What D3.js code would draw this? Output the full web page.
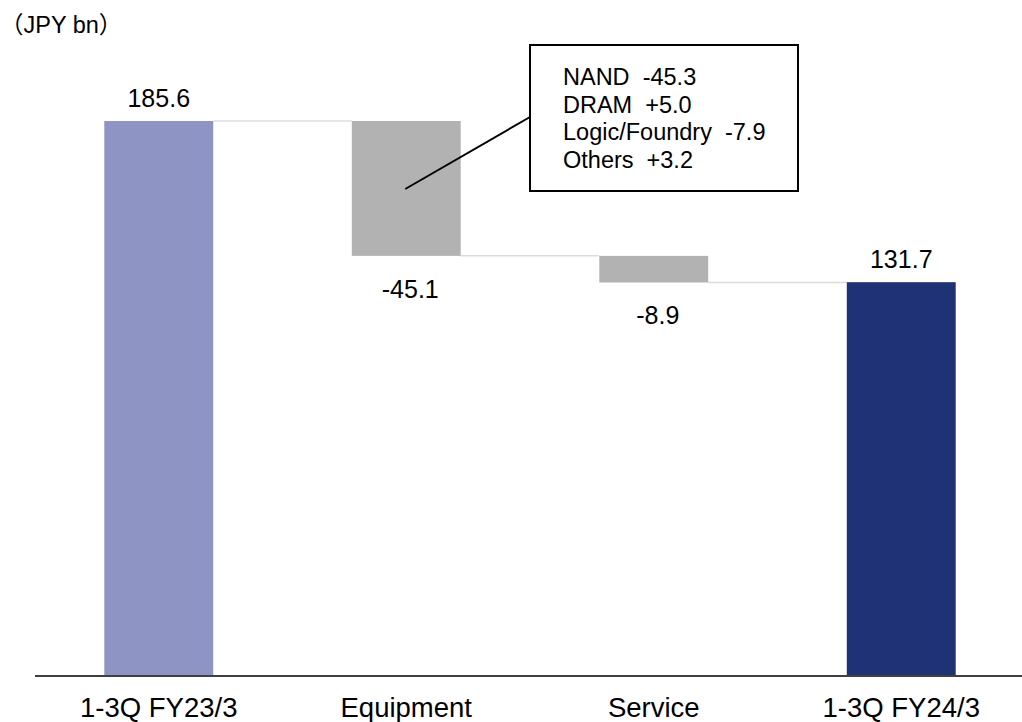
<!DOCTYPE html>
<html>
<head>
<meta charset="utf-8">
<script src="https://cdn.jsdelivr.net/npm/d3@7"></script>
<style>
  body { margin: 0; background: #fff; }
  text { font-family: "Liberation Sans", Arial, "Noto Sans CJK JP", sans-serif; fill: #000; }
</style>
</head>
<body>
<div id="chart"></div>
<script>
// data
const categories = ["1-3Q FY23/3", "Equipment", "Service", "1-3Q FY24/3"];
const kinds = ["total", "delta", "delta", "total"];
const values = [185.6, -45.1, -8.9, 131.7];
const valueLabels = ["185.6", "-45.1", "-8.9", "131.7"];
const breakdownLabels = ["NAND  -45.3", "DRAM  +5.0", "Logic/Foundry  -7.9", "Others  +3.2"];
const unitLabel = "（JPY bn）";

const width = 1022, height = 722;
const colors = ["#8e94c4", "#b2b2b2", "#b2b2b2", "#1f3275"];

// running start/end for each bar
let running = 0;
const bars = categories.map((c, i) => {
    let y0, y1;
    if (kinds[i] === "total") { y0 = 0; y1 = values[i]; running = values[i]; }
    else { y0 = running; y1 = running + values[i]; running = y1; }
    return { cat: c, y0: y0, y1: y1, label: valueLabels[i], kind: kinds[i], value: values[i], color: colors[i] };
});

const svg = d3.select("#chart").append("svg")
    .attr("width", width)
    .attr("height", height);

const x = d3.scaleBand()
    .domain(categories)
    .range([35, 1025])
    .paddingInner(0.56)
    .paddingOuter(0.28);

const y = d3.scaleLinear()
    .domain([0, 185.6])
    .range([676, 121]);

// connector lines
for (let i = 0; i < bars.length - 1; i++) {
    const lvl = bars[i].y1;
    svg.append("line")
        .attr("x1", x(bars[i].cat) + x.bandwidth())
        .attr("x2", x(bars[i + 1].cat))
        .attr("y1", y(lvl))
        .attr("y2", y(lvl))
        .attr("stroke", "#dcdcdc")
        .attr("stroke-width", 1.5);
}

// bars
svg.selectAll("rect.bar")
    .data(bars)
    .enter()
    .append("rect")
    .attr("class", "bar")
    .attr("x", d => x(d.cat))
    .attr("width", x.bandwidth())
    .attr("y", d => y(Math.max(d.y0, d.y1)))
    .attr("height", d => Math.abs(y(d.y0) - y(d.y1)))
    .attr("fill", d => d.color);

// value labels
svg.selectAll("text.val")
    .data(bars)
    .enter()
    .append("text")
    .attr("class", "val")
    .attr("x", d => x(d.cat) + x.bandwidth() / 2 + (d.value < 0 ? 4 : 0))
    .attr("y", d => d.value >= 0 ? y(Math.max(d.y0, d.y1)) - 14 : y(Math.min(d.y0, d.y1)) + 42)
    .attr("text-anchor", "middle")
    .style("font-size", "25px")
    .text(d => d.label);

// x axis
const xAxis = svg.append("g")
    .attr("transform", "translate(0,676)")
    .call(d3.axisBottom(x).tickSize(0).tickPadding(21));
xAxis.select(".domain").remove();
xAxis.selectAll("text")
    .style("font-size", "27.5px")
    .style("font-family", "'Liberation Sans', Arial, sans-serif")
    .attr("fill", "#3a3a3a")
    .attr("dy", "0.71em");
svg.append("line")
    .attr("x1", 35).attr("x2", 1022)
    .attr("y1", 676).attr("y2", 676)
    .attr("stroke", "#404040")
    .attr("stroke-width", 2);

// unit
svg.append("text")
    .attr("x", 0)
    .attr("y", 33)
    .style("font-size", "23.5px")
    .text(unitLabel);

// breakdown callout
const eq = bars[1];
const box = { x: 530, y: 45, w: 268, h: 146 };
svg.append("line")
    .attr("x1", x(eq.cat) + x.bandwidth() / 2 - 1)
    .attr("y1", y(eq.y0) + 68)
    .attr("x2", box.x)
    .attr("y2", box.y + 72)
    .attr("stroke", "#000")
    .attr("stroke-width", 2);
svg.append("rect")
    .attr("x", box.x).attr("y", box.y)
    .attr("width", box.w).attr("height", box.h)
    .attr("fill", "#fff")
    .attr("stroke", "#000")
    .attr("stroke-width", 2);
svg.selectAll("text.bd")
    .data(breakdownLabels)
    .enter()
    .append("text")
    .attr("class", "bd")
    .attr("x", 563)
    .attr("y", (d, i) => 85 + i * 27.7)
    .style("font-size", "23.5px")
    .style("white-space", "pre")
    .text(d => d);
</script>
</body>
</html>
